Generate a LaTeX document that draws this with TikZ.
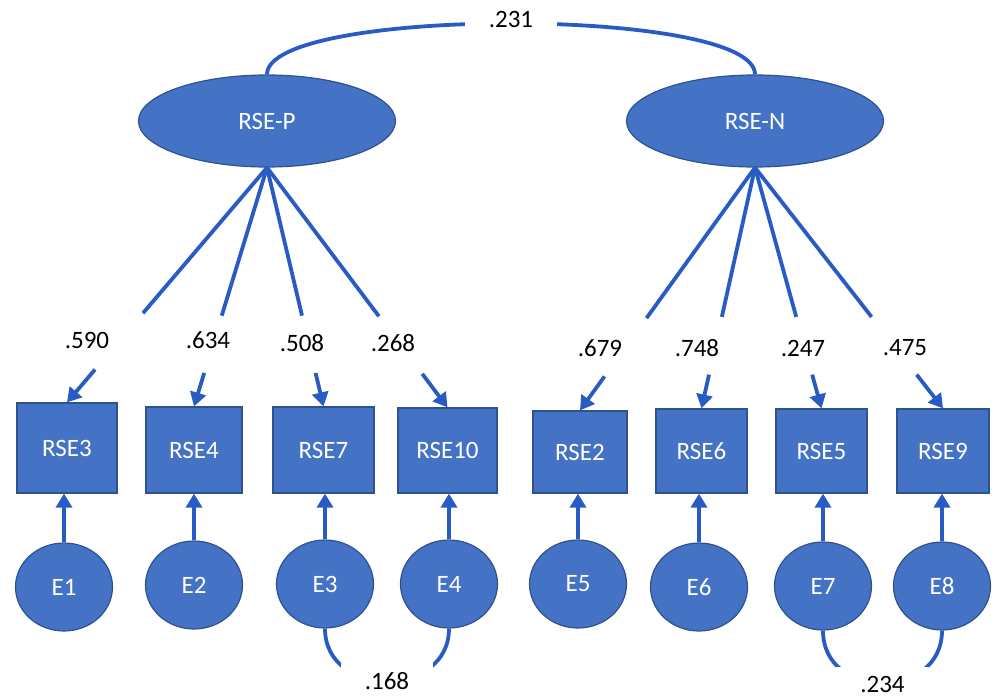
\documentclass[tikz,border=0pt]{standalone}
\usepackage{fontspec}
\setmainfont{Carlito}
\usetikzlibrary{arrows.meta,calc,shapes.geometric}
\definecolor{shapefill}{RGB}{68,114,196}
\definecolor{shapeedge}{RGB}{47,82,143}
\definecolor{linkblue}{RGB}{40,92,196}
\begin{document}
\begin{tikzpicture}[x=1pt,y=-1pt,
  font=\fontsize{25}{30}\selectfont,
  latent/.style={ellipse, fill=shapefill, draw=shapeedge, line width=1.2pt, text=white, minimum width=257pt, minimum height=92pt, inner sep=0pt},
  obsbox/.style={rectangle, fill=shapefill, draw=shapeedge, line width=1.2pt, text=white, inner sep=0pt},
  errc/.style={ellipse, fill=shapefill, draw=shapeedge, line width=1.2pt, text=white, minimum width=97pt, minimum height=88pt, inner sep=0pt},
  lbl/.style={text=black, inner sep=0pt},
  conn/.style={draw=linkblue, line width=3.8pt},
  arr/.style={conn, -{Triangle[length=14pt,width=16pt]}},
  cov/.style={fill=white, text=black, inner ysep=9pt, inner xsep=24pt},
]
\useasboundingbox (0,0) rectangle (997,698);

% latent variables
\node[latent] (P) at (267,121) {RSE-P};
\node[latent] (N) at (755,121) {RSE-N};

% observed items
\node[obsbox, minimum width=100pt, minimum height=90pt] (b3)  at (67,448)    {RSE3};
\node[obsbox, minimum width=96pt,  minimum height=86pt] (b4)  at (194,450)   {RSE4};
\node[obsbox, minimum width=101pt, minimum height=86pt] (b7)  at (323.5,450) {RSE7};
\node[obsbox, minimum width=99pt,  minimum height=85pt] (b10) at (447.5,450.5) {RSE10};
\node[obsbox, minimum width=94pt,  minimum height=82pt] (b2)  at (580,452)   {RSE2};
\node[obsbox, minimum width=91pt,  minimum height=84pt] (b6)  at (701.5,451) {RSE6};
\node[obsbox, minimum width=91pt,  minimum height=84pt] (b5)  at (821.5,451) {RSE5};
\node[obsbox, minimum width=92pt,  minimum height=84pt] (b9)  at (943,451)   {RSE9};

% error terms
\node[errc] (e1) at (64,587)  {E1};
\node[errc] (e2) at (194,585) {E2};
\node[errc] (e3) at (325,584) {E3};
\node[errc] (e4) at (449,584) {E4};
\node[errc] (e5) at (578,584) {E5};
\node[errc] (e6) at (699,587) {E6};
\node[errc] (e7) at (823,586) {E7};
\node[errc] (e8) at (942,586) {E8};

% loading labels
\node[lbl] (l1) at (87,340)  {.590};
\node[lbl] (l2) at (208,340) {.634};
\node[lbl] (l3) at (302,343) {.508};
\node[lbl] (l4) at (393,343) {.268};
\node[lbl] (l5) at (600,348) {.679};
\node[lbl] (l6) at (697,348) {.748};
\node[lbl] (l7) at (803,348) {.247};
\node[lbl] (l8) at (905,348) {.475};

% loadings
\foreach \lat/\b in {P/b3,P/b4,P/b7,P/b10,N/b2,N/b6,N/b5,N/b9}{
  \draw[conn] (\lat.south) -- ($(\lat.south)!0.62!(\b.north)$);
  \draw[arr] ($(\lat.south)!0.86!(\b.north)$) -- (\b.north);
}

% error arrows
\foreach \e/\b in {e1/b3,e2/b4,e3/b7,e4/b10,e5/b2,e6/b6,e7/b5,e8/b9}{
  \draw[arr] (\e.north) -- (\e.north |- \b.south);
}

% covariance between latents
\draw[conn] (P.north) .. controls +(0,-68) and +(0,-68) .. node[cov, pos=0.5, yshift=4pt, inner ysep=6pt] {.231} (N.north);

% error covariances
\draw[conn] (e3.south) .. controls +(0,70) and +(0,70) .. node[cov, pos=0.5] {.168} (e4.south);
\draw[conn] (e7.south) .. controls +(0,70) and +(0,70) .. node[cov, pos=0.5, yshift=-1pt] {.234} (e8.south);
\end{tikzpicture}
\end{document}
